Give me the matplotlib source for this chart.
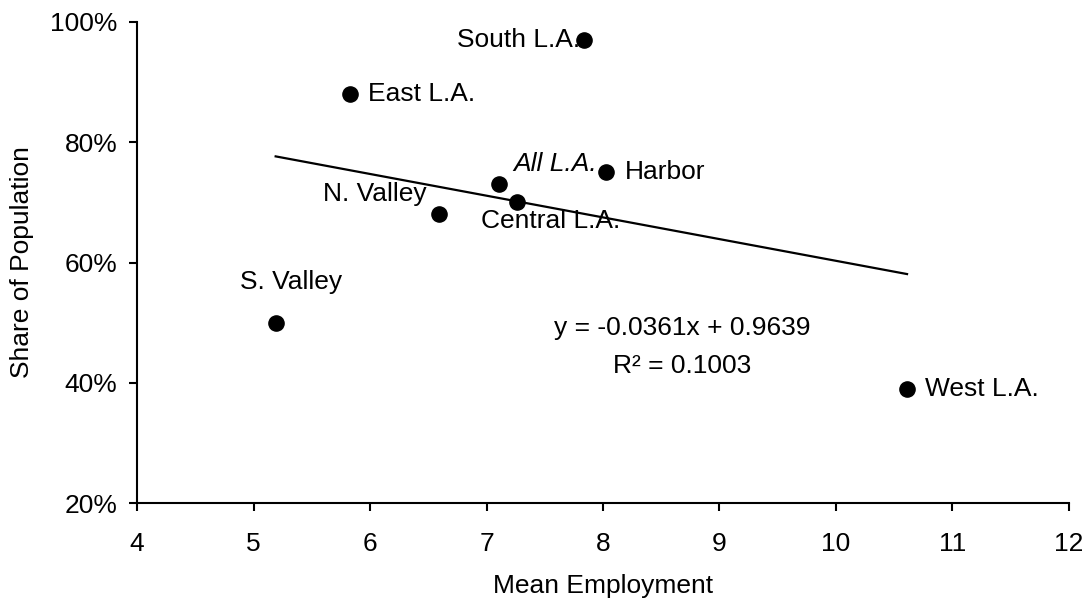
import matplotlib
matplotlib.use("Agg")
import matplotlib.pyplot as plt
from matplotlib.ticker import PercentFormatter

# --- data ---
regions = ["S. Valley", "East L.A.", "N. Valley", "All L.A.", "Central L.A.",
           "South L.A.", "Harbor", "West L.A."]
mean_employment = [5.19, 5.83, 6.59, 7.11, 7.26, 7.84, 8.03, 10.61]
share_population = [0.50, 0.88, 0.68, 0.73, 0.70, 0.97, 0.75, 0.39]

# trend line printed on the chart
slope = -0.0361
intercept = 0.9639
r_squared = 0.1003

x_ticks = [4, 5, 6, 7, 8, 9, 10, 11, 12]
y_ticks = [0.2, 0.4, 0.6, 0.8, 1.0]

# label placement (offset in points, horizontal alignment, italic?)
label_style = {
    "S. Valley": ((11, 29), "center", False),
    "East L.A.": ((12.5, 0), "left", False),
    "N. Valley": ((-9, 15), "right", False),
    "All L.A.": ((10, 15), "left", True),
    "Central L.A.": ((-25.5, -13.5), "left", False),
    "South L.A.": ((-3, 0), "right", False),
    "Harbor": ((13, 0), "left", False),
    "West L.A.": ((13, 0), "left", False),
}

plt.rcParams["font.family"] = ["Liberation Sans", "DejaVu Sans"]
plt.rcParams["font.size"] = 19


def main():
    fig = plt.figure(figsize=(10.91, 6.04), dpi=100)
    ax = fig.add_axes([0.1256, 0.167, 0.8542, 0.7966])

    ax.scatter(mean_employment, share_population, s=120, color="black", zorder=3)

    # linear trend across the data range
    x0, x1 = min(mean_employment), max(mean_employment)
    ax.plot([x0, x1], [slope * x0 + intercept, slope * x1 + intercept],
            color="black", linewidth=1.6, zorder=2)

    for name, xv, yv in zip(regions, mean_employment, share_population):
        offset, ha, italic = label_style[name]
        ax.annotate(name, (xv, yv), textcoords="offset points", xytext=offset,
                    ha=ha, va="center", style="italic" if italic else "normal")

    ax.text(8.68, 0.492, f"y = {slope:.4f}x + {intercept:.4f}", ha="center", va="center")
    ax.text(8.68, 0.428, f"R\u00b2 = {r_squared:.4f}", ha="center", va="center")

    ax.set_xlim(4, 12)
    ax.set_ylim(0.2, 1.0)
    ax.set_xticks(x_ticks)
    ax.set_yticks(y_ticks)
    ax.yaxis.set_major_formatter(PercentFormatter(1.0, decimals=0))

    for side in ["top", "right"]:
        ax.spines[side].set_visible(False)
    for side in ["left", "bottom"]:
        ax.spines[side].set_linewidth(1.5)
    ax.tick_params(axis="x", direction="out", length=6, width=1.5, pad=15)
    ax.tick_params(axis="y", direction="out", length=6, width=1.5, pad=8)

    ax.set_xlabel("Mean Employment", labelpad=13)
    ax.set_ylabel("Share of Population", labelpad=12)

    fig.savefig("out.png", dpi=100)
    plt.close(fig)


if __name__ == "__main__":
    main()
